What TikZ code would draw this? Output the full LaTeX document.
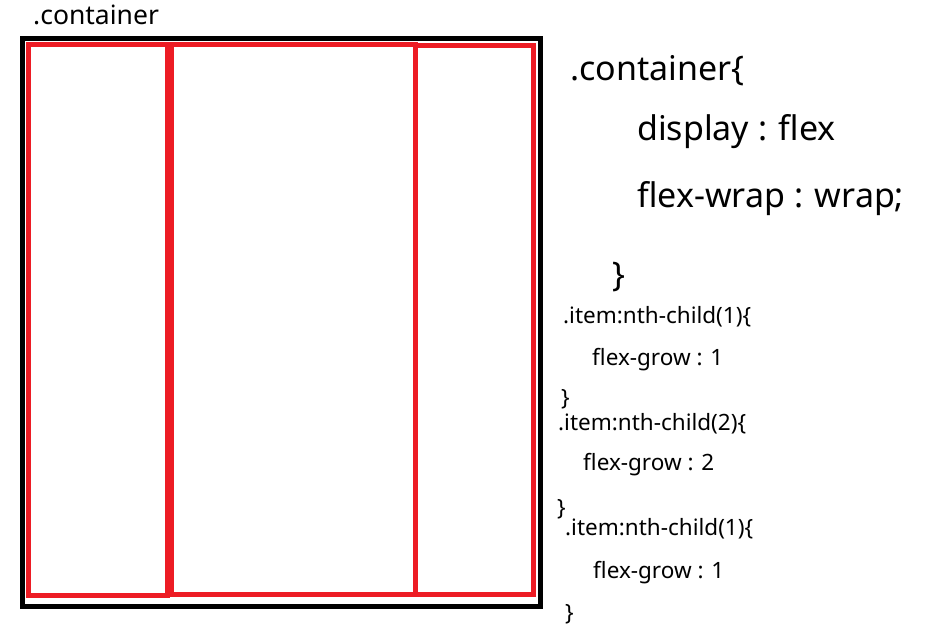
\documentclass[tikz,border=0pt]{standalone}
\usepackage{fontspec}
\setmainfont{Noto Sans}
\definecolor{itemred}{HTML}{ED1C24}
\tikzset{
  box/.style={draw=black, line width=5pt},
  itembox/.style={draw=itemred, line width=5pt},
  txt/.style={anchor=base west, inner sep=0pt, text=black},
  big/.style={txt, font=\fontsize{34}{40}\selectfont},
  small/.style={txt, font=\fontsize{22.5}{27}\selectfont},
  label/.style={txt, font=\fontsize{26.5}{32}\selectfont},
}
\begin{document}
\begin{tikzpicture}[x=1pt,y=-1pt]
\useasboundingbox (0,0) rectangle (943,627);
% container and items
\draw[box] (22.5,38.5) rectangle (540.5,606.5);
\draw[itembox] (28.5,44.5) rectangle (167.5,595.5);
\draw[itembox] (171.5,44.5) rectangle (415.5,594.5);
\draw[itembox] (415.5,45.5) rectangle (533.5,594.5);
% labels
\node[label] (lab) at (33,24) {.container};
\node[big] (c1) at (570,80) {.container\{};
\node[big] (c2) at (637,140) {display : flex};
\node[big] (c3) at (637,207) {flex-wrap : wrap;};
\node[big] (c4) at (612,286) {\}};
\node[small] (i1) at (563,323) {.item:nth-child(1)\{};
\node[small] (g1) at (592,365) {flex-grow : 1};
\node[small] (e1) at (561,405) {\}};
\node[small] (i2) at (558,430) {.item:nth-child(2)\{};
\node[small] (g2) at (583,470) {flex-grow : 2};
\node[small] (e2) at (557,515) {\}};
\node[small] (i3) at (565,535) {.item:nth-child(1)\{};
\node[small] (g3) at (593,578) {flex-grow : 1};
\node[small] (e3) at (565,620) {\}};
\end{tikzpicture}
\end{document}
